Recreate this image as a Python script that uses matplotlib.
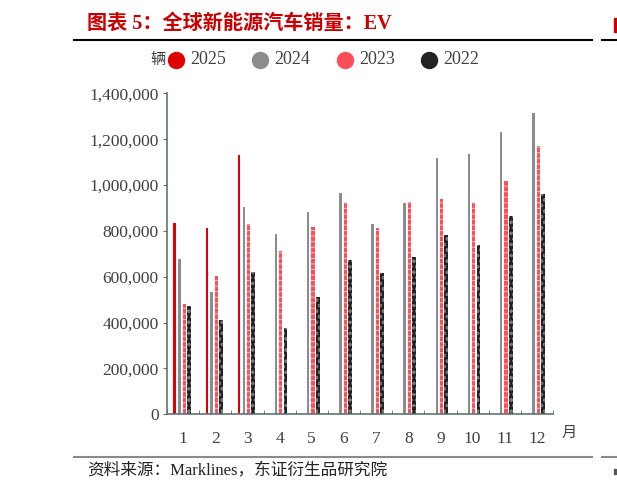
import numpy as np
import matplotlib.pyplot as plt
from matplotlib.lines import Line2D
from matplotlib.patches import Rectangle
from matplotlib.ticker import FuncFormatter, MultipleLocator, FixedLocator

plt.rcParams['font.family'] = ['Liberation Serif', 'Noto Sans CJK SC']
plt.rcParams['hatch.linewidth'] = 0.7

## data (units: vehicles)
months = [str(m) for m in range(1, 13)]
years = ['2025', '2024', '2023', '2022']
ev_2025 = [836000, 812000, 1131000]
ev_2024 = [677000, 535000, 904000, 785000, 882000, 967000, 830000, 920000, 1118000, 1135000, 1231000, 1315000]
ev_2023 = [480000, 603000, 830000, 712000, 818000, 921000, 813000, 926000, 938000, 920000, 1017000, 1169000]
ev_2022 = [472000, 410000, 619000, 376000, 513000, 672000, 618000, 687000, 783000, 738000, 863000, 959000]
series = [ev_2025, ev_2024, ev_2023, ev_2022]

## styles
colors = ['#e00000', '#8c8c8c', '#ff4d5a', '#222222']
hatch_cols = ['#e00000', '#8c8c8c', '#ffc0c6', '#777777']
hatches = [None, None, '---', 'ooo']
offsets = [-0.265, -0.11, 0.04, 0.185]
widths = [0.075, 0.08, 0.1, 0.12]
title_red = '#cc0000'
spine_col = '#5f7373'
text_col = '#404040'

fig = plt.figure(figsize=(6.17, 4.92), dpi=100)
W, H = 617, 492
ax = fig.add_axes([167 / W, 1 - 414.3 / H, 386 / W, 321 / H])

x = np.arange(1, 13)
for vals, c, hc, h, off, w in zip(series, colors, hatch_cols, hatches, offsets, widths):
    ax.bar(x[:len(vals)] + off, vals, width=w, color=c, edgecolor=hc,
           hatch=h, linewidth=0)

ax.set_xlim(0.5, 12.5)
ax.set_ylim(0, 1400000)
for s in ['top', 'right']:
    ax.spines[s].set_visible(False)
for s in ['left', 'bottom']:
    ax.spines[s].set_color(spine_col)
    ax.spines[s].set_linewidth(1.2)

ax.yaxis.set_major_locator(MultipleLocator(200000))
ax.yaxis.set_major_formatter(FuncFormatter(lambda v, p: '{:,.0f}'.format(v)))
ax.tick_params(axis='y', direction='out', length=3, color=spine_col,
               labelsize=12.5, labelcolor=text_col, pad=3)
ax.set_xticks(x)
ax.set_xticklabels(months)
ax.xaxis.set_minor_locator(FixedLocator(np.arange(0.5, 13, 1)))
ax.tick_params(axis='x', which='major', length=0, labelsize=12.5,
               labelcolor=text_col, pad=12)
ax.tick_params(axis='x', which='minor', direction='in', length=3, color=spine_col)

# unit labels
fig.text(569 / W, 1 - 433 / H, '月', fontsize=11, color=text_col, ha='center', va='center')
fig.text(158 / W, 1 - 60 / H, '辆', fontsize=11, color=text_col, ha='center', va='center')

# legend, drawn by hand so it sits next to the unit label
lx0, lstep, ly = 176 / W, 84.4 / W, 1 - 60 / H
for i, (yr, c) in enumerate(zip(years, colors)):
    cx = lx0 + i * lstep
    fig.add_artist(Line2D([cx], [ly], marker='o', markersize=11.5, color=c,
                          linestyle='none', transform=fig.transFigure))
    fig.text(cx + 14 / W, ly, yr, fontsize=13, color=text_col, ha='left', va='center')

# title and rules
fig.text(87 / W, 1 - 24 / H, '图表 5：全球新能源汽车销量：EV', fontsize=14.5,
         fontweight='bold', color=title_red, ha='left', va='center')
# cut-off fragments of the neighbouring panel at the right edge
fig.add_artist(Rectangle((614 / W, 1 - 32 / H), 3 / W, 14 / H, color=title_red,
                         transform=fig.transFigure))
fig.add_artist(Rectangle((614 / W, 1 - 474 / H), 2 / W, 5 / H, color='#555555',
                         transform=fig.transFigure))
fig.add_artist(Line2D([74 / W, 592 / W], [1 - 40 / H] * 2, color='black', lw=1.5))
fig.add_artist(Line2D([602 / W, 1], [1 - 40 / H] * 2, color='black', lw=1.5))
fig.add_artist(Line2D([74 / W, 592 / W], [1 - 456.7 / H] * 2, color='#8a8a8a', lw=1.5))
fig.add_artist(Line2D([602 / W, 1], [1 - 456.7 / H] * 2, color='#8a8a8a', lw=1.5))

# source
fig.text(87 / W, 1 - 471.5 / H, '资料来源：Marklines，东证衍生品研究院', fontsize=12,
         color='#222222', ha='left', va='center')

fig.savefig('out.png', dpi=100)
